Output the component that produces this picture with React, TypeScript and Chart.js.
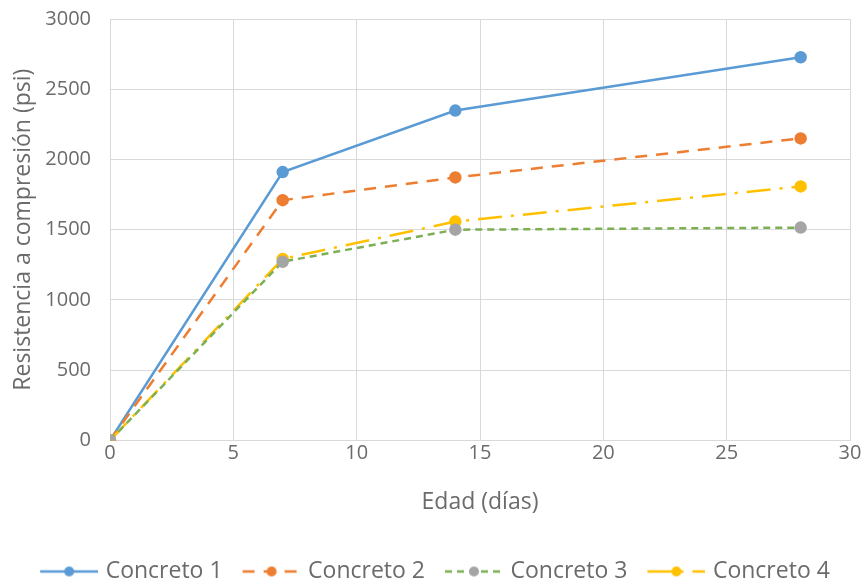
import React, { useEffect, useRef } from "react";
import { Chart, registerables } from "chart.js";

Chart.register(...registerables);

const ages = [0, 7, 14, 28];
const concreto1 = [0, 1910, 2348, 2728];
const concreto2 = [0, 1710, 1872, 2150];
const concreto3 = [0, 1272, 1500, 1515];
const concreto4 = [0, 1292, 1558, 1808];
const seriesNames = ["Concreto 1", "Concreto 2", "Concreto 3", "Concreto 4"];
const yTicks = [0, 500, 1000, 1500, 2000, 2500, 3000];
const xTicks = [0, 5, 10, 15, 20, 25, 30];

const FONT = "'Open Sans', 'Noto Sans', sans-serif";
const TEXT = "#6b6b6b";

function legendIcon(line: string, marker: string, dash: number[]) {
  // canvas is wider than the legend box; the transparent left part shifts the
  // visible icon so that it sits closer to its label
  const c = document.createElement("canvas");
  c.width = 66;
  c.height = 14;
  const ctx = c.getContext("2d")!;
  ctx.strokeStyle = line;
  ctx.lineWidth = 2.5;
  ctx.setLineDash(dash);
  ctx.beginPath();
  ctx.moveTo(8, 7);
  ctx.lineTo(66, 7);
  ctx.stroke();
  ctx.setLineDash([]);
  ctx.fillStyle = marker;
  ctx.beginPath();
  ctx.arc(37, 7, 5, 0, Math.PI * 2);
  ctx.fill();
  return c;
}

const shiftLegend = {
  id: "shiftLegend",
  afterLayout(chart: any) {
    if (chart.legend) {
      chart.legend.left += 8;
      chart.legend.right += 8;
    }
  },
};

export default function App() {
  const ref = useRef<HTMLCanvasElement>(null);
  useEffect(() => {
    document.body.style.margin = "0";
    const styles = [
      { line: "#5B9BD5", marker: "#5B9BD5", dash: [] as number[], data: concreto1 },
      { line: "#ED7D31", marker: "#ED7D31", dash: [12, 9], data: concreto2 },
      { line: "#7DAF55", marker: "#A5A5A5", dash: [7, 5], data: concreto3 },
      { line: "#FFC000", marker: "#FFC000", dash: [24, 9, 3, 9], data: concreto4 },
    ];
    const icons = styles.map((s) => legendIcon(s.line, s.marker, s.dash));
    const chart = new Chart(ref.current!, {
      type: "scatter",
      plugins: [shiftLegend],
      data: {
        datasets: styles.map((s, i) => ({
          label: seriesNames[i],
          data: ages.map((a, j) => ({ x: a, y: s.data[j] })),
          showLine: true,
          borderColor: s.line,
          backgroundColor: s.marker,
          pointBackgroundColor: s.marker,
          pointBorderColor: s.marker,
          pointRadius: 5,
          borderWidth: 2.5,
          borderDash: s.dash,
          order: [4, 3, 1, 2][i],
        })),
      },
      options: {
        animation: false,
        responsive: false,
        layout: { padding: { top: 19, right: 16, bottom: -8, left: 0 } },
        scales: {
          x: {
            type: "linear",
            min: 0,
            max: 30,
            afterBuildTicks: (s: any) => {
              s.ticks = xTicks.map((v) => ({ value: v }));
            },
            grid: { color: "#d9d9d9", drawTicks: false },
            border: { color: "#d9d9d9" },
            ticks: {
              padding: 1,
              color: TEXT,
              font: { family: FONT, size: 20 },
              callback: (v: any) => String(v),
            },
            title: {
              display: true,
              text: "Edad (días)",
              color: TEXT,
              font: { family: FONT, size: 23 },
              padding: { top: 22, bottom: 28 },
            },
          },
          y: {
            type: "linear",
            min: 0,
            max: 3000,
            afterBuildTicks: (s: any) => {
              s.ticks = yTicks.map((v) => ({ value: v }));
            },
            afterFit: (s: any) => {
              s.width = 110;
            },
            grid: {
              color: "#d9d9d9",
              drawTicks: true,
              tickLength: 19,
              tickColor: "rgba(0,0,0,0)",
            },
            border: { color: "#d9d9d9" },
            ticks: {
              padding: 0,
              color: TEXT,
              font: { family: FONT, size: 20 },
              callback: (v: any) => String(v),
            },
            title: {
              display: true,
              text: "Resistencia a compresión (psi)",
              color: TEXT,
              font: { family: FONT, size: 23 },
              padding: { top: 10, bottom: 0 },
            },
          },
        },
        plugins: {
          tooltip: { enabled: false },
          legend: {
            position: "bottom",
            labels: {
              usePointStyle: true,
              pointStyleWidth: 58,
              padding: 16,
              color: TEXT,
              font: { family: FONT, size: 23 },
              generateLabels: () =>
                seriesNames.map((n, i) => ({
                  text: n,
                  pointStyle: icons[i],
                  fillStyle: styles[i].marker,
                  strokeStyle: styles[i].line,
                  lineWidth: 0,
                  hidden: false,
                  datasetIndex: i,
                  fontColor: TEXT,
                })),
            },
          },
        },
      },
    });
    return () => chart.destroy();
  }, []);
  return <canvas ref={ref} width={866} height={585} style={{ display: "block" }} />;
}
